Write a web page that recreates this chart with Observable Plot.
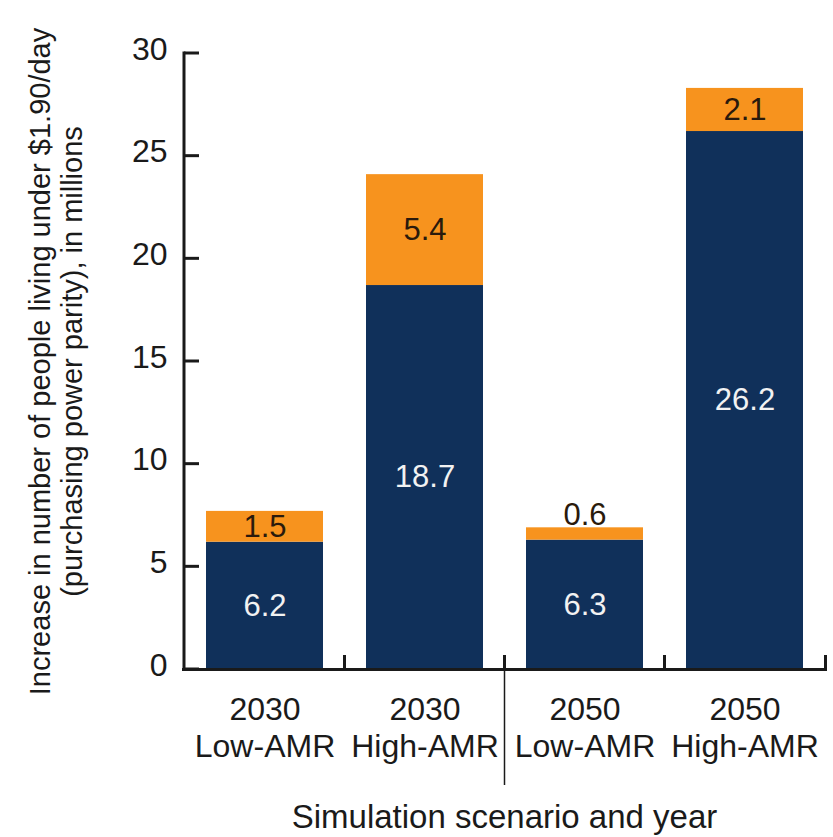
<!DOCTYPE html>
<html>
<head>
<meta charset="utf-8">
<script src="https://cdn.jsdelivr.net/npm/d3@7"></script>
<script src="https://cdn.jsdelivr.net/npm/@observablehq/plot@0.6"></script>
<style>
  html, body { margin: 0; padding: 0; background: #ffffff; }
</style>
</head>
<body>
<div id="chart"></div>
<script>
// ---- data ----
const scenarios = ["2030\nLow-AMR", "2030\nHigh-AMR", "2050\nLow-AMR", "2050\nHigh-AMR"];
const baseValues = [6.2, 18.7, 6.3, 26.2];   // navy segment
const amrValues = [1.5, 5.4, 0.6, 2.1];      // orange segment
const parts = ["base", "amr"];
const yTicks = [0, 5, 10, 15, 20, 25, 30];
const yTitle = "Increase in number of people living under $1.90/day\n(purchasing power parity), in millions";
const xTitle = "Simulation scenario and year";

const navy = "#10305a";
const orange = "#f7931e";
const ink = "#1a1a1a";
const font = "'Liberation Sans', Arial, Helvetica, sans-serif";

const tidy = scenarios.flatMap((s, i) => [
  {scenario: s, part: "base", value: baseValues[i]},
  {scenario: s, part: "amr", value: amrValues[i]}
]);

const baseLabels = scenarios.map((s, i) => ({scenario: s, y: baseValues[i] / 2, text: baseValues[i].toFixed(1)}));
const amrInside = scenarios.map((s, i) => ({scenario: s, v: amrValues[i], y: baseValues[i] + amrValues[i] / 2, text: amrValues[i].toFixed(1)})).filter(d => d.v >= 1);
const amrAbove = scenarios.map((s, i) => ({scenario: s, v: amrValues[i], y: baseValues[i] + amrValues[i], text: amrValues[i].toFixed(1)})).filter(d => d.v < 1);

const W = 833, H = 837;
const plot = Plot.plot({
  width: W,
  height: H,
  marginLeft: 184,
  marginRight: 9,
  marginTop: 53,
  marginBottom: 168,
  style: {fontFamily: font, fontSize: "31px", color: ink, background: "#ffffff"},
  x: {domain: scenarios, paddingInner: 0.27, paddingOuter: 0.135},
  y: {domain: [0, 30]},
  color: {domain: parts, range: [navy, orange]},
  marks: [
    Plot.barY(tidy, {x: "scenario", y: "value", fill: "part"}),
    Plot.text(baseLabels, {x: "scenario", y: "y", text: "text", fill: "#f2f2f2", fontSize: 31}),
    Plot.text(amrInside, {x: "scenario", y: "y", text: "text", fill: "#2a1a0c", fontSize: 31}),
    Plot.text(amrAbove, {x: "scenario", y: "y", text: "text", fill: "#2a1a0c", fontSize: 31, lineAnchor: "bottom", dy: -3}),
    Plot.ruleY([0], {stroke: ink, strokeWidth: 3, insetLeft: -2, insetRight: -3}),
    Plot.axisX({tickSize: 0, tickPadding: 24, fontSize: 32, lineHeight: 1.16, label: null, tickFormat: d => d, color: ink}),
    Plot.axisY({ticks: yTicks, tickSize: 0, tickPadding: 17, fontSize: 32, label: null, dy: -4, color: ink}),
    Plot.text([yTitle], {frameAnchor: "left", textAnchor: "middle", rotate: -90, dx: -157, lineAnchor: "top", lineHeight: 1.1, text: d => d, fontSize: 29, fill: ink}),
    Plot.text([xTitle], {frameAnchor: "bottom", textAnchor: "middle", lineAnchor: "top", dy: 135, text: d => d, fontSize: 33, fill: ink})
  ]
});

// axis lines and band-boundary ticks from the plot's own scales
const xs = plot.scale("x"), ys = plot.scale("y");
const svg = d3.select(plot);
const y0 = ys.apply(0), yTop = ys.apply(30);
const gap = (xs.step - xs.bandwidth) / 2;
const starts = scenarios.map(s => xs.apply(s) - gap);
const bounds = starts.concat([xs.apply(scenarios[scenarios.length - 1]) + xs.bandwidth + gap]);
const g = svg.append("g").attr("stroke", ink).attr("fill", "none");
const xLeft = bounds[0] - 0.5;
g.append("line").attr("x1", xLeft).attr("x2", xLeft).attr("y1", yTop - 1.5).attr("y2", y0 + 1.5).attr("stroke-width", 3);
yTicks.forEach(v => {
  g.append("line").attr("x1", xLeft).attr("x2", xLeft + 15).attr("y1", ys.apply(v)).attr("y2", ys.apply(v)).attr("stroke-width", 3);
});
bounds.slice(1).forEach((b, i) => {
  const bx = i === bounds.length - 2 ? b + 1 : b;
  g.append("line").attr("x1", bx).attr("x2", bx).attr("y1", y0).attr("y2", y0 - 14).attr("stroke-width", 3);
});
// divider between the 2030 and 2050 groups
const mid = bounds[2];
g.append("line").attr("x1", mid).attr("x2", mid).attr("y1", y0).attr("y2", y0 + 116).attr("stroke-width", 1.5);

document.getElementById("chart").appendChild(plot);
</script>
</body>
</html>
